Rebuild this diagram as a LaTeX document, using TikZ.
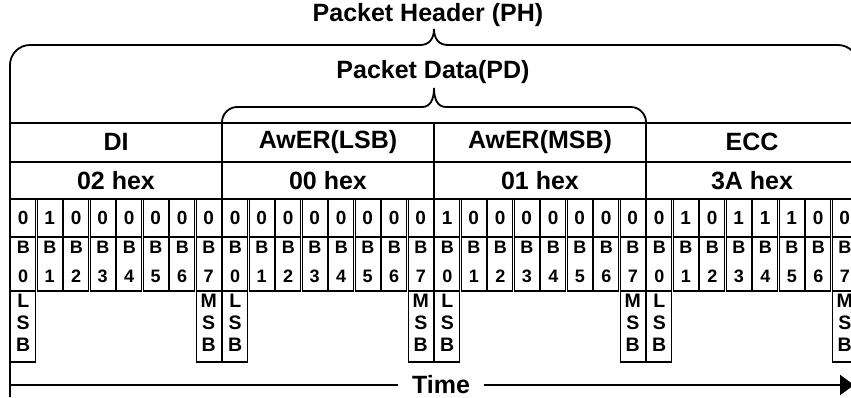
\documentclass[tikz,border=0pt]{standalone}
\usepackage{fontspec}
\setmainfont{Liberation Sans}
\usetikzlibrary{arrows.meta}
\begin{document}
\begin{tikzpicture}[x=1pt,y=-1pt,
  heavy/.style={line width=1.8pt},
  brace/.style={line width=1.8pt},
  cellbox/.style={line width=1.1pt},
  bigtxt/.style={font=\fontsize{25}{30}\selectfont\bfseries, inner sep=0pt},
  bittxt/.style={font=\fontsize{19}{22}\selectfont\bfseries, inner sep=0pt},
  btxt/.style={font=\fontsize{18}{20}\selectfont\bfseries, inner sep=0pt},
  lsbtxt/.style={font=\fontsize{19.5}{22}\selectfont\bfseries, inner sep=0pt}
]
\clip (0,0) rectangle (851,397);
\fill[white] (0,0) rectangle (851,397);

% titles
\node[bigtxt] (ph) at (428,15) {Packet Header (PH)};
\node[bigtxt] (pd) at (433,72) {Packet Data(PD)};

% Packet Header brace (left end continues as the table border)
\draw[brace] (10,397) -- (10,65) .. controls (10,54) and (19,45) .. (30,45)
  -- (420,45) .. controls (429,45) and (434,39) .. (434,29)
  .. controls (434,39) and (439,45) .. (448,45)
  -- (838,45) .. controls (849,45) and (858,54) .. (858,65) -- (858,199);

% Packet Data brace (ends continue as byte dividers)
\draw[brace] (222,199) -- (222,122) .. controls (222,114) and (229,107) .. (237,107)
  -- (422,107) .. controls (430,107) and (434,100) .. (434,88)
  .. controls (434,100) and (438,107) .. (446,107)
  -- (631,107) .. controls (639,107) and (646,114) .. (646,122) -- (646,199);

% table rows
\draw[heavy] (10,123) -- (858,123);
\draw[heavy] (10,162) -- (858,162);
\draw[heavy] (10,199) -- (858,199);
\draw[heavy] (434,123) -- (434,199);

% field names and values
\node[bigtxt] (f1) at (116,142) {DI};
\node[bigtxt] (f2) at (328,142) {AwER(LSB)};
\node[bigtxt] (f3) at (540,142) {AwER(MSB)};
\node[bigtxt] (f4) at (752,142) {ECC};
\node[bigtxt] (h1) at (116,180.5) {02 hex};
\node[bigtxt] (h2) at (328,180.5) {00 hex};
\node[bigtxt] (h3) at (540,180.5) {01 hex};
\node[bigtxt] (h4) at (752,180.5) {3A hex};

% bit cells
\foreach \v [count=\i from 0] in {0,1,0,0,0,0,0,0, 0,0,0,0,0,0,0,0, 1,0,0,0,0,0,0,0, 0,1,0,1,1,1,0,0} {
  \pgfmathsetmacro\xl{10+26.5*\i+0.7}
  \pgfmathsetmacro\xr{10+26.5*(\i+1)-0.7}
  \pgfmathsetmacro\xc{10+26.5*(\i+0.5)}
  \pgfmathtruncatemacro\k{mod(\i,8)}
  \draw[cellbox] (\xl,199) rectangle (\xr,237);
  \draw[cellbox] (\xl,237) rectangle (\xr,291);
  \node[bittxt] (v\i) at (\xc,217.5) {\v};
  \node[btxt] (bb\i) at (\xc,247) {B};
  \node[btxt] (bn\i) at (\xc,276) {\k};
}

% LSB / MSB markers
\foreach \i/\a in {0/L,7/M,8/L,15/M,16/L,23/M,24/L,31/M} {
  \pgfmathsetmacro\xl{10+26.5*\i+0.7}
  \pgfmathsetmacro\xr{10+26.5*(\i+1)-0.7}
  \pgfmathsetmacro\xc{10+26.5*(\i+0.5)}
  \draw[cellbox] (\xl,291) rectangle (\xr,362);
  \node[lsbtxt] (m\i a) at (\xc,301) {\a};
  \node[lsbtxt] (m\i b) at (\xc,323) {S};
  \node[lsbtxt] (m\i c) at (\xc,345) {B};
}

% time axis
\coordinate (t0) at (10,385);
\coordinate (t1) at (854,385);
\draw[line width=2.4pt, -{Triangle[length=14pt,width=20pt]}] (t0) -- (t1);
\node[bigtxt, fill=white, inner xsep=14pt, inner ysep=0pt] (time) at (441,385) {Time};
\end{tikzpicture}
\end{document}
